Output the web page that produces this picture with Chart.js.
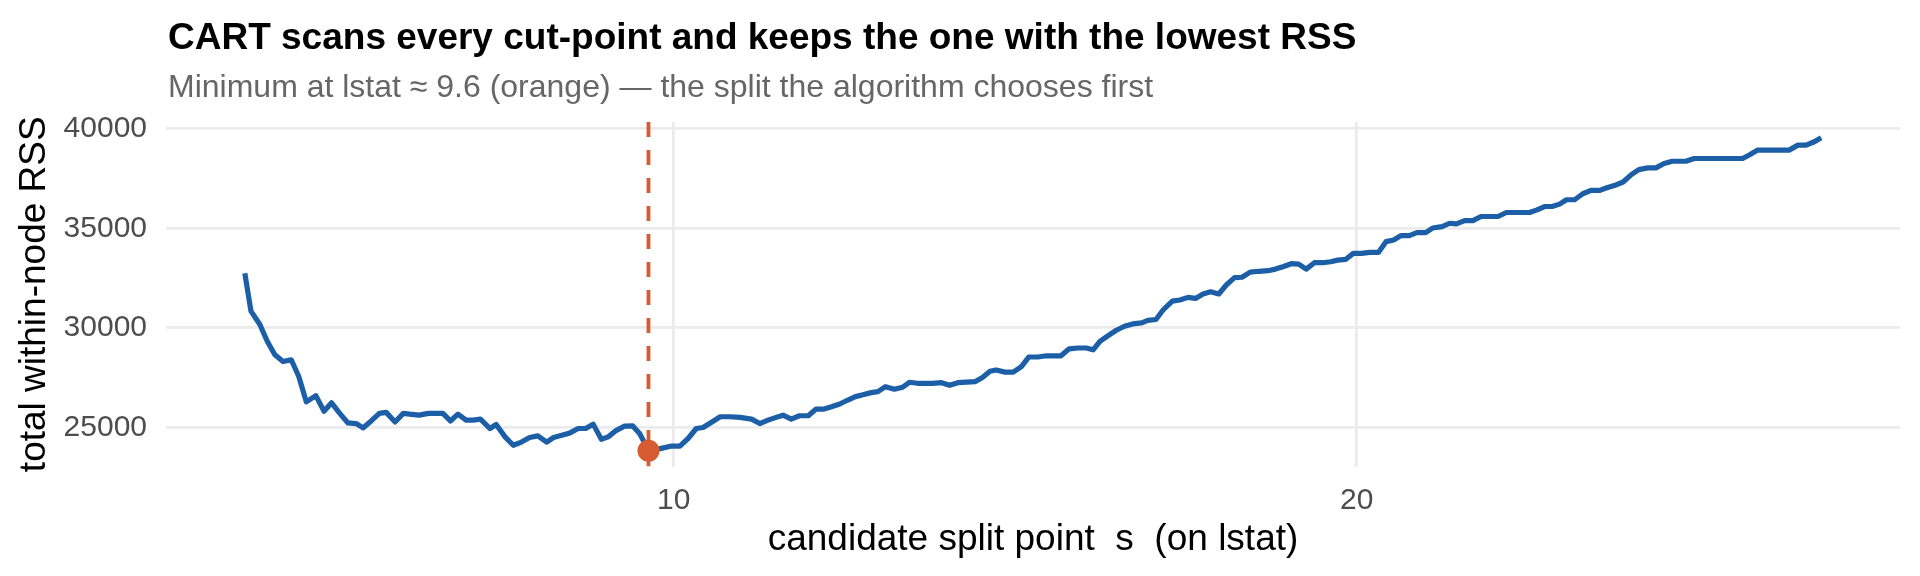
<!DOCTYPE html>
<html>
<head>
<meta charset="utf-8">
<script src="https://cdn.jsdelivr.net/npm/chart.js@4.4.1/dist/chart.umd.min.js"></script>
<style>
  html, body { margin: 0; padding: 0; background: #ffffff; }
  #wrap { width: 1920px; height: 576px; position: relative; }
</style>
</head>
<body>
<div id="wrap"><canvas id="c" width="1920" height="576"></canvas></div>
<script>
// ---- data ----
const splitPoints = [
  3.72, 3.81, 3.94, 4.05, 4.16, 4.28, 4.40, 4.51, 4.62, 4.76, 4.88, 4.99, 5.11, 5.23, 5.35, 5.45,
  5.57, 5.69, 5.79, 5.92, 6.04, 6.16, 6.27, 6.41, 6.62, 6.73, 6.84, 6.96, 7.06, 7.17, 7.31, 7.40,
  7.53, 7.65, 7.77, 7.89, 8.01, 8.14, 8.24, 8.36, 8.48, 8.60, 8.71, 8.82, 8.94, 9.04, 9.16, 9.28,
  9.40, 9.50, 9.58, 9.63, 9.80, 9.97, 10.09, 10.21, 10.33, 10.43, 10.56, 10.68, 10.82, 10.97,
  11.14, 11.26, 11.38, 11.50, 11.60, 11.72, 11.84, 11.97, 12.08, 12.19, 12.31, 12.43, 12.55, 12.66,
  12.77, 12.89, 12.99, 13.10, 13.23, 13.35, 13.45, 13.57, 13.79, 13.92, 14.04, 14.16, 14.41, 14.52,
  14.63, 14.72, 14.85, 14.97, 15.09, 15.20, 15.33, 15.46, 15.67, 15.79, 15.92, 16.04, 16.14, 16.24,
  16.36, 16.48, 16.60, 16.72, 16.85, 16.94, 17.06, 17.17, 17.30, 17.41, 17.53, 17.64, 17.75, 17.86,
  17.98, 18.09, 18.21, 18.32, 18.44, 18.57, 18.70, 18.81, 18.92, 19.04, 19.15, 19.26, 19.38, 19.50,
  19.62, 19.72, 19.84, 19.95, 20.07, 20.19, 20.32, 20.43, 20.54, 20.65, 20.77, 20.88, 21.01, 21.11,
  21.25, 21.36, 21.46, 21.58, 21.70, 21.82, 21.94, 22.07, 22.19, 22.31, 22.43, 22.53, 22.64, 22.75,
  22.86, 22.97, 23.07, 23.19, 23.31, 23.43, 23.56, 23.65, 23.77, 23.90, 24.02, 24.13, 24.26, 24.38,
  24.50, 24.62, 24.75, 24.82, 24.94, 25.65, 25.76, 25.87, 26.33, 26.46, 26.58, 26.70, 26.80
];
const rssValues = [
  32740, 30840, 30170, 29320, 28650, 28310, 28400, 27560, 26290, 26600, 25820, 26240, 25710, 25230, 25200, 24980,
  25330, 25710, 25760, 25280, 25710, 25660, 25620, 25710, 25710, 25330, 25670, 25370, 25370, 25420, 24950, 25150,
  24530, 24110, 24270, 24500, 24580, 24270, 24500, 24610, 24730, 24950, 24950, 25170, 24410, 24530, 24860, 25070,
  25080, 24700, 24190, 23830, 23940, 24070, 24070, 24450, 24950, 25000, 25280, 25540, 25540, 25510,
  25420, 25200, 25370, 25510, 25620, 25420, 25590, 25590, 25920, 25920, 26040, 26180, 26380, 26550,
  26650, 26750, 26800, 27050, 26920, 27020, 27270, 27220, 27220, 27250, 27120, 27250, 27300, 27510,
  27820, 27890, 27780, 27780, 28060, 28540, 28540, 28600, 28600, 28950, 28990, 28990, 28900, 29320,
  29610, 29880, 30080, 30200, 30250, 30380, 30420, 30920, 31340, 31400, 31530, 31480, 31700, 31810,
  31700, 32150, 32520, 32540, 32800, 32840, 32870, 32950, 33070, 33220, 33200, 32950, 33270, 33270,
  33320, 33400, 33440, 33740, 33740, 33790, 33790, 34330, 34410, 34630, 34630, 34780, 34780, 35010,
  35080, 35250, 35220, 35380, 35380, 35590, 35590, 35590, 35790, 35790, 35790, 35790, 35920, 36090,
  36090, 36210, 36430, 36430, 36730, 36900, 36900, 37020, 37140, 37320, 37690, 37940, 38030, 38030,
  38250, 38360, 38360, 38360, 38500, 38500, 38700, 38920, 38920, 39170, 39170, 39340, 39545
];
const chosenSplit = 9.63;
const chosenRss = 23830;
const xTickValues = [10, 20];
const yTickValues = [25000, 30000, 35000, 40000];

const titleText = "CART scans every cut-point and keeps the one with the lowest RSS";
const subtitleText = "Minimum at lstat \u2248 9.6 (orange) \u2014 the split the algorithm chooses first";
const xAxisTitle = "candidate split point  s  (on lstat)";
const yAxisTitle = "total within-node RSS";

// ---- axis limits with ggplot-style 5% expansion ----
const xLo = Math.min(...splitPoints), xHi = Math.max(...splitPoints);
const yLo = Math.min(...rssValues), yHi = Math.max(...rssValues);
const xMin = xLo - 0.05 * (xHi - xLo), xMax = xHi + 0.05 * (xHi - xLo);
const yMin = yLo - 0.05 * (yHi - yLo), yMax = yHi + 0.05 * (yHi - yLo);

const FONT = '"Liberation Sans", Arial, Helvetica, sans-serif';
const BLUE = '#1c5fa6';
const ORANGE = '#d65b30';

const headerPlugin = {
  id: 'header',
  afterDraw(chart) {
    const ctx = chart.ctx;
    const left = chart.chartArea.left + 2;
    ctx.save();
    ctx.textAlign = 'left';
    ctx.textBaseline = 'alphabetic';
    ctx.fillStyle = '#000000';
    ctx.font = 'bold 37px ' + FONT;
    ctx.fillText(titleText, left, 49);
    ctx.fillStyle = '#666666';
    ctx.font = '32px ' + FONT;
    ctx.fillText(subtitleText, left, 97);
    ctx.restore();
  }
};

new Chart(document.getElementById('c'), {
  type: 'line',
  data: {
    datasets: [
      {
        data: [{ x: chosenSplit, y: chosenRss }],
        showLine: false,
        pointRadius: 11,
        pointHoverRadius: 11,
        pointBackgroundColor: ORANGE,
        pointBorderWidth: 0,
        order: 0
      },
      {
        data: [{ x: chosenSplit, y: yMax }, { x: chosenSplit, y: yMin }],
        borderColor: ORANGE,
        borderWidth: 3.8,
        borderDash: [15, 13],
        pointRadius: 0,
        fill: false,
        order: 1
      },
      {
        data: splitPoints.map((x, i) => ({ x: x, y: rssValues[i] })),
        borderColor: BLUE,
        borderWidth: 5.2,
        borderJoinStyle: 'round',
        pointRadius: 0,
        tension: 0,
        fill: false,
        order: 2
      }
    ]
  },
  options: {
    responsive: false,
    animation: false,
    devicePixelRatio: 1,
    layout: { padding: { top: 122, right: 20, left: 0, bottom: 0 } },
    plugins: { legend: { display: false }, tooltip: { enabled: false }, title: { display: false } },
    scales: {
      x: {
        type: 'linear',
        min: xMin,
        max: xMax,
        afterFit(s) { s.height = 109.5; },
        afterBuildTicks(s) { s.ticks = xTickValues.map(v => ({ value: v })); },
        grid: { color: '#ebebeb', lineWidth: 2.8, drawTicks: false },
        border: { display: false },
        ticks: {
          color: '#4d4d4d',
          font: { family: FONT, size: 30 },
          padding: 16,
          maxRotation: 0,
          callback: v => String(v)
        },
        title: {
          display: true,
          text: xAxisTitle,
          color: '#000000',
          font: { family: FONT, size: 37 },
          padding: { top: 0, bottom: 14 }
        }
      },
      y: {
        type: 'linear',
        min: yMin,
        max: yMax,
        afterFit(s) { s.width = 166; },
        afterBuildTicks(s) { s.ticks = yTickValues.map(v => ({ value: v })); },
        grid: { color: '#ebebeb', lineWidth: 2.8, drawTicks: false },
        border: { display: false },
        ticks: {
          color: '#4d4d4d',
          font: { family: FONT, size: 30 },
          padding: 19,
          callback: v => String(v)
        },
        title: {
          display: true,
          text: yAxisTitle,
          color: '#000000',
          font: { family: FONT, size: 37 },
          padding: { top: 13, bottom: 0 }
        }
      }
    }
  },
  plugins: [headerPlugin]
});
</script>
</body>
</html>
